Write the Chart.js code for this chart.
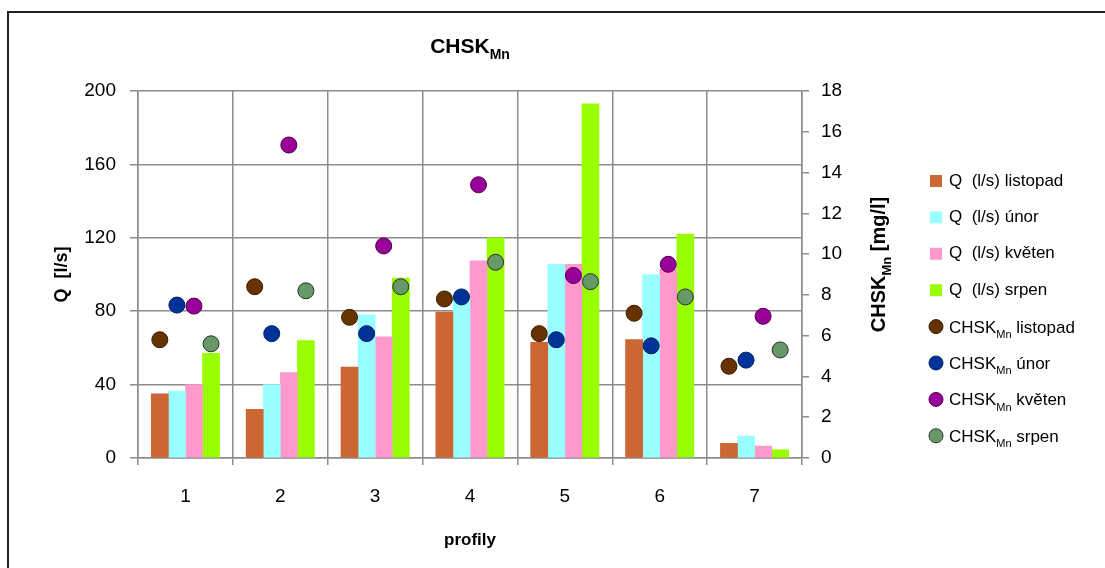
<!DOCTYPE html>
<html>
<head>
<meta charset="utf-8">
<script src="https://cdn.jsdelivr.net/npm/chart.js@4.4.1/dist/chart.umd.min.js"></script>
<style>
  html, body { margin: 0; padding: 0; background: #fff; }
  #wrap { width: 1105px; height: 568px; position: relative; }
</style>
</head>
<body>
<div id="wrap"><canvas id="chart" width="1105" height="568"></canvas></div>
<script>
const profily = ['1', '2', '3', '4', '5', '6', '7']
const mesice = ['listopad', 'únor', 'květen', 'srpen']

// průtok Q (l/s) - levá osa
const qListopad = [35, 26.5, 49.5, 79.5, 63, 64.5, 8]
const qUnor = [36.5, 40, 78, 87, 105.5, 100, 12]
const qKveten = [40, 46.5, 66, 107.5, 105.5, 103, 6.5]
const qSrpen = [57, 64, 98, 120, 193, 122, 4.5]

// CHSK Mn (mg/l) - pravá osa
const chskListopad = [5.8, 8.4, 6.9, 7.8, 6.1, 7.1, 4.5]
const chskUnor = [7.5, 6.1, 6.1, 7.9, 5.8, 5.5, 4.8]
const chskKveten = [7.45, 15.35, 10.4, 13.4, 8.95, 9.5, 6.95]
const chskSrpen = [5.6, 8.2, 8.4, 9.6, 8.65, 7.9, 5.3]

const qTicks = [0, 40, 80, 120, 160, 200]
const chskTicks = [0, 2, 4, 6, 8, 10, 12, 14, 16, 18]

const barColors = ['#CC6633', '#99FFFF', '#FF99CC', '#99FF00']
const dotColors = ['#663300', '#003399', '#990099', '#669966']
const dotBorders = ['#3a1c00', '#001f5c', '#4d004d', '#2e2e2e']

const CAT_PCT = 0.72
const FONT = '"Liberation Sans", Arial, sans-serif'

const qSeries = [qListopad, qUnor, qKveten, qSrpen]
const chskSeries = [chskListopad, chskUnor, chskKveten, chskSrpen]

// pozice v rámci profilu: sloupec j a bod j leží nad sebou
const slot = (i, j) => i + (j - 1.5) * CAT_PCT / 4

const barSets = qSeries.map((vals, j) => ({
  type: 'bar',
  label: 'Q  (l/s) ' + mesice[j],
  data: vals.map((v, i) => ({ x: slot(i, j), y: v })),
  backgroundColor: barColors[j],
  borderWidth: 0,
  grouped: false,
  categoryPercentage: 1,
  barPercentage: 1,
  yAxisID: 'y',
  xAxisID: 'xp',
  order: 2
}))

const dotSets = chskSeries.map((vals, j) => ({
  type: 'line',
  label: 'CHSKMn ' + mesice[j],
  data: vals.map((v, i) => ({ x: slot(i, j), y: v })),
  backgroundColor: dotColors[j],
  borderColor: dotBorders[j],
  borderWidth: 1,
  pointRadius: 8,
  pointBackgroundColor: dotColors[j],
  pointBorderColor: dotBorders[j],
  pointBorderWidth: 1,
  showLine: false,
  yAxisID: 'y1',
  xAxisID: 'xp',
  order: 1
}))

function drawRich (ctx, parts, x, y, size, bold, align) {
  const w = parts.map(p => {
    ctx.font = (bold ? 'bold ' : '') + (p.sub ? Math.round(size * 0.65) : size) + 'px ' + FONT
    return ctx.measureText(p.t).width
  })
  const total = w.reduce((a, b) => a + b, 0)
  let cx = align === 'center' ? x - total / 2 : x
  parts.forEach((p, k) => {
    ctx.font = (bold ? 'bold ' : '') + (p.sub ? Math.round(size * 0.65) : size) + 'px ' + FONT
    ctx.textAlign = 'left'
    ctx.textBaseline = 'alphabetic'
    ctx.fillText(p.t, cx, p.sub ? y + size * 0.3 : y)
    cx += w[k]
  })
}

const decor = {
  id: 'decor',
  beforeDraw (chart) {
    const ctx = chart.ctx
    ctx.save()
    ctx.fillStyle = '#fff'
    ctx.fillRect(0, 0, chart.width, chart.height)
    ctx.strokeStyle = '#222'
    ctx.lineWidth = 2
    ctx.strokeRect(8, 12, 1200, 700)
    ctx.restore()
  },
  afterDraw (chart) {
    const ctx = chart.ctx
    const a = chart.chartArea
    ctx.save()
    ctx.fillStyle = '#000'
    // nadpis
    drawRich(ctx, [{ t: 'CHSK' }, { t: 'Mn', sub: true }], (a.left + a.right) / 2, 53, 21, true, 'center')
    // osa x
    ctx.font = 'bold 17px ' + FONT
    ctx.textAlign = 'center'
    ctx.textBaseline = 'middle'
    ctx.fillText('profily', (a.left + a.right) / 2, 540)
    // levá osa
    ctx.save()
    ctx.translate(62, (a.top + a.bottom) / 2)
    ctx.rotate(-Math.PI / 2)
    ctx.font = 'bold 18px ' + FONT
    ctx.fillText('Q  [l/s]', 0, 0)
    ctx.restore()
    // pravá osa
    ctx.save()
    ctx.translate(885, (a.top + a.bottom) / 2 - 10)
    ctx.rotate(-Math.PI / 2)
    drawRich(ctx, [{ t: 'CHSK' }, { t: 'Mn', sub: true }, { t: ' [mg/l]' }], 0, 0, 20, true, 'center')
    ctx.restore()
    // legenda
    const lx = 930
    let ly = 181
    barSets.forEach((d, j) => {
      ctx.fillStyle = d.backgroundColor
      ctx.fillRect(lx, ly - 6, 12, 12)
      ctx.fillStyle = '#000'
      ctx.font = '17px ' + FONT
      ctx.textAlign = 'left'
      ctx.textBaseline = 'middle'
      ctx.fillText(d.label, lx + 19, ly)
      ly += 36.4
    })
    dotSets.forEach((d, j) => {
      ctx.beginPath()
      ctx.arc(lx + 6, ly, 7, 0, Math.PI * 2)
      ctx.fillStyle = d.backgroundColor
      ctx.fill()
      ctx.strokeStyle = d.borderColor
      ctx.lineWidth = 1
      ctx.stroke()
      ctx.fillStyle = '#000'
      drawRich(ctx, [{ t: 'CHSK' }, { t: 'Mn', sub: true }, { t: ' ' + mesice[j] }], lx + 19, ly + 6, 17, false, 'left')
      ly += 36.4
    })
    ctx.restore()
  }
}

const gridCol = '#8c8c8c'
const tickFont = { family: FONT, size: 19 }

new Chart(document.getElementById('chart'), {
  type: 'bar',
  data: { labels: profily, datasets: [...barSets, ...dotSets] },
  options: {
    responsive: false,
    animation: false,
    events: [],
    layout: { padding: { left: 0, right: 213, top: 91, bottom: 20 } },
    plugins: { legend: { display: false }, tooltip: { enabled: false }, title: { display: false } },
    scales: {
      x: {
        type: 'category',
        grid: { color: gridCol, lineWidth: 1.5, offset: true, tickLength: 7 },
        border: { color: gridCol, width: 1.5 },
        ticks: { font: tickFont, color: '#000', padding: 20 },
        afterFit: s => { s.height = 90 }
      },
      xp: {
        type: 'linear',
        display: false,
        offset: false,
        min: -0.5,
        max: profily.length - 0.5
      },
      y: {
        position: 'left',
        min: 0,
        max: 200,
        afterBuildTicks: s => { s.ticks = qTicks.map(v => ({ value: v })) },
        grid: { color: gridCol, lineWidth: 1.5, tickLength: 8 },
        border: { color: gridCol, width: 1.5 },
        ticks: { font: tickFont, color: '#000', padding: 14 },
        afterFit: s => { s.width = 138 }
      },
      y1: {
        position: 'right',
        min: 0,
        max: 18,
        afterBuildTicks: s => { s.ticks = chskTicks.map(v => ({ value: v })) },
        grid: { drawOnChartArea: false, color: gridCol, lineWidth: 1.5, tickLength: 7 },
        border: { color: gridCol, width: 1.5 },
        ticks: { font: tickFont, color: '#000', padding: 12 },
        afterFit: s => { s.width = 90 }
      }
    }
  },
  plugins: [decor]
})
</script>
</body>
</html>
